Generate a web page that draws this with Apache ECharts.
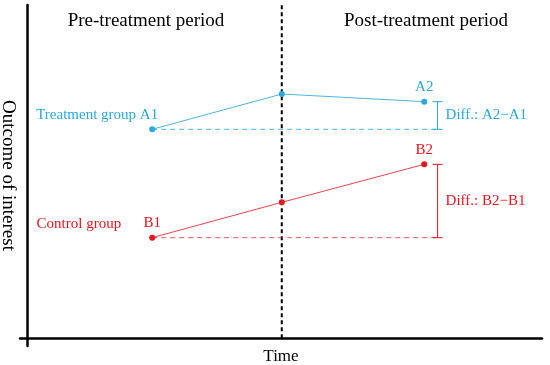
<!DOCTYPE html>
<html>
<head>
<meta charset="utf-8">
<script src="https://cdn.jsdelivr.net/npm/echarts@6/dist/echarts.min.js"></script>
<style>html,body{margin:0;padding:0;background:#fff}#c{width:550px;height:365px}</style>
</head>
<body>
<div id="c"></div>
<script>
// ---- data (axis units: 0..100 on both axes) ----
var timePositions = [24.2, 49.4, 77.1];          // pre, treatment time, post
var treatmentValues = [62.7, 73.3, 71.0];       // A1, mid, A2
var controlValues = [30.2, 40.8, 52.2];         // B1, mid, B2
var treatmentLabels = ['Treatment group A1', '', 'A2'];
var controlLabels = ['B1', '', 'B2'];
var diffX = 79.7;
var diffLabels = ['Diff.: A2\u2212A1', 'Diff.: B2\u2212B1'];
var periodLabels = ['Pre-treatment period', 'Post-treatment period'];
var axisNames = ['Time', 'Outcome of interest'];
var controlGroupName = 'Control group';
var treatmentTime = 49.4;

var BLUE = '#2aa8e0', RED = '#e8141e';
var FONT = '"Liberation Serif", "Times New Roman", serif';

function bracket(color) {
  return function (params, api) {
    var x = api.value(0), lo = api.value(1), hi = api.value(2);
    var p1 = api.coord([x, hi]), p2 = api.coord([x, lo]);
    var cap = 5;
    var st = { stroke: color, lineWidth: 1 };
    return {
      type: 'group', children: [
        { type: 'line', shape: { x1: p1[0], y1: p1[1], x2: p2[0], y2: p2[1] }, style: st },
        { type: 'line', shape: { x1: p1[0] - cap, y1: p1[1], x2: p1[0] + cap, y2: p1[1] }, style: st },
        { type: 'line', shape: { x1: p2[0] - cap, y1: p2[1], x2: p2[0] + cap, y2: p2[1] }, style: st },
        { type: 'text', x: p1[0] + 8, y: (p1[1] + p2[1]) / 2,
          style: { text: api.value(3) === 0 ? diffLabels[0] : diffLabels[1], fill: color,
                   font: '15px ' + FONT, textAlign: 'left', textVerticalAlign: 'middle' } }
      ]
    };
  };
}

function labelled(xs, ys, labels, firstLeft) {
  return xs.map(function (x, i) {
    var item = { value: [x, ys[i]] };
    if (i === 0 && firstLeft) {
      item.label = { align: 'right', offset: [6, 0] };
    }
    return item;
  });
}

var chart = echarts.init(document.getElementById('c'), null, { renderer: 'canvas' });
chart.setOption({
  animation: false,
  textStyle: { fontFamily: FONT },
  grid: { left: 20, right: 8, top: 5, bottom: 19, containLabel: false, outerBoundsMode: 'none' },
  xAxis: {
    type: 'value', min: -1.5, max: 100,
    name: axisNames[0], nameLocation: 'middle', nameGap: 2,
    nameTextStyle: { fontSize: 17, color: '#000', fontFamily: FONT },
    axisLine: { show: true, onZero: true, lineStyle: { color: '#000', width: 2.5 } },
    axisTick: { show: false }, axisLabel: { show: false }, splitLine: { show: false }
  },
  yAxis: {
    type: 'value', min: -2.3, max: 100,
    name: axisNames[1], nameLocation: 'middle', nameGap: 3, nameRotate: -90,
    nameTextStyle: { fontSize: 19, color: '#000', fontFamily: FONT },
    axisLine: { show: true, onZero: true, lineStyle: { color: '#000', width: 2.5 } },
    axisTick: { show: false }, axisLabel: { show: false }, splitLine: { show: false }
  },
  graphic: [
    { type: 'text', x: 146, y: 21, style: { text: periodLabels[0], font: '19px ' + FONT, fill: '#000', textAlign: 'center', textVerticalAlign: 'middle' } },
    { type: 'text', x: 426, y: 21, style: { text: periodLabels[1], font: '19px ' + FONT, fill: '#000', textAlign: 'center', textVerticalAlign: 'middle' } }
  ],
  series: [
    {
      type: 'line', data: [[treatmentTime, 0], [treatmentTime, 100]], symbol: 'none', silent: true,
      lineStyle: { color: '#000', width: 2, type: [4, 3] }, z: 1
    },
    {
      type: 'line', data: [[timePositions[0], treatmentValues[0]], [diffX, treatmentValues[0]]],
      symbol: 'none', lineStyle: { color: BLUE, width: 1, type: [5, 4], opacity: 0.85 }
    },
    {
      type: 'line', data: [[timePositions[0], controlValues[0]], [diffX, controlValues[0]]],
      symbol: 'none', lineStyle: { color: RED, width: 1, type: [5, 4], opacity: 0.7 }
    },
    {
      type: 'line', data: labelled(timePositions, treatmentValues, treatmentLabels, true),
      symbol: 'circle', symbolSize: 6,
      itemStyle: { color: BLUE }, lineStyle: { color: BLUE, width: 1, opacity: 0.85 }, z: 3,
      label: {
        show: true, position: 'top', distance: 4, color: BLUE, fontSize: 15, fontFamily: FONT,
        formatter: function (p) { return treatmentLabels[p.dataIndex]; }
      }
    },
    {
      type: 'line', data: labelled(timePositions, controlValues, controlLabels, false),
      symbol: 'circle', symbolSize: 6,
      itemStyle: { color: RED }, lineStyle: { color: RED, width: 1, opacity: 0.8 }, z: 3,
      label: {
        show: true, position: 'top', distance: 4, color: RED, fontSize: 15, fontFamily: FONT,
        formatter: function (p) { return controlLabels[p.dataIndex]; }
      },
      markPoint: {
        symbol: 'circle', symbolSize: 0,
        data: [{ coord: [timePositions[0], controlValues[0]] }],
        label: { show: true, formatter: controlGroupName, position: 'left', offset: [-26, -14],
                 color: RED, fontSize: 15, fontFamily: FONT }
      }
    },
    {
      type: 'custom', renderItem: bracket(BLUE), data: [[diffX, treatmentValues[0], treatmentValues[2], 0]], z: 2
    },
    {
      type: 'custom', renderItem: bracket(RED), data: [[diffX, controlValues[0], controlValues[2], 1]], z: 2
    }
  ]
});
</script>
</body>
</html>
